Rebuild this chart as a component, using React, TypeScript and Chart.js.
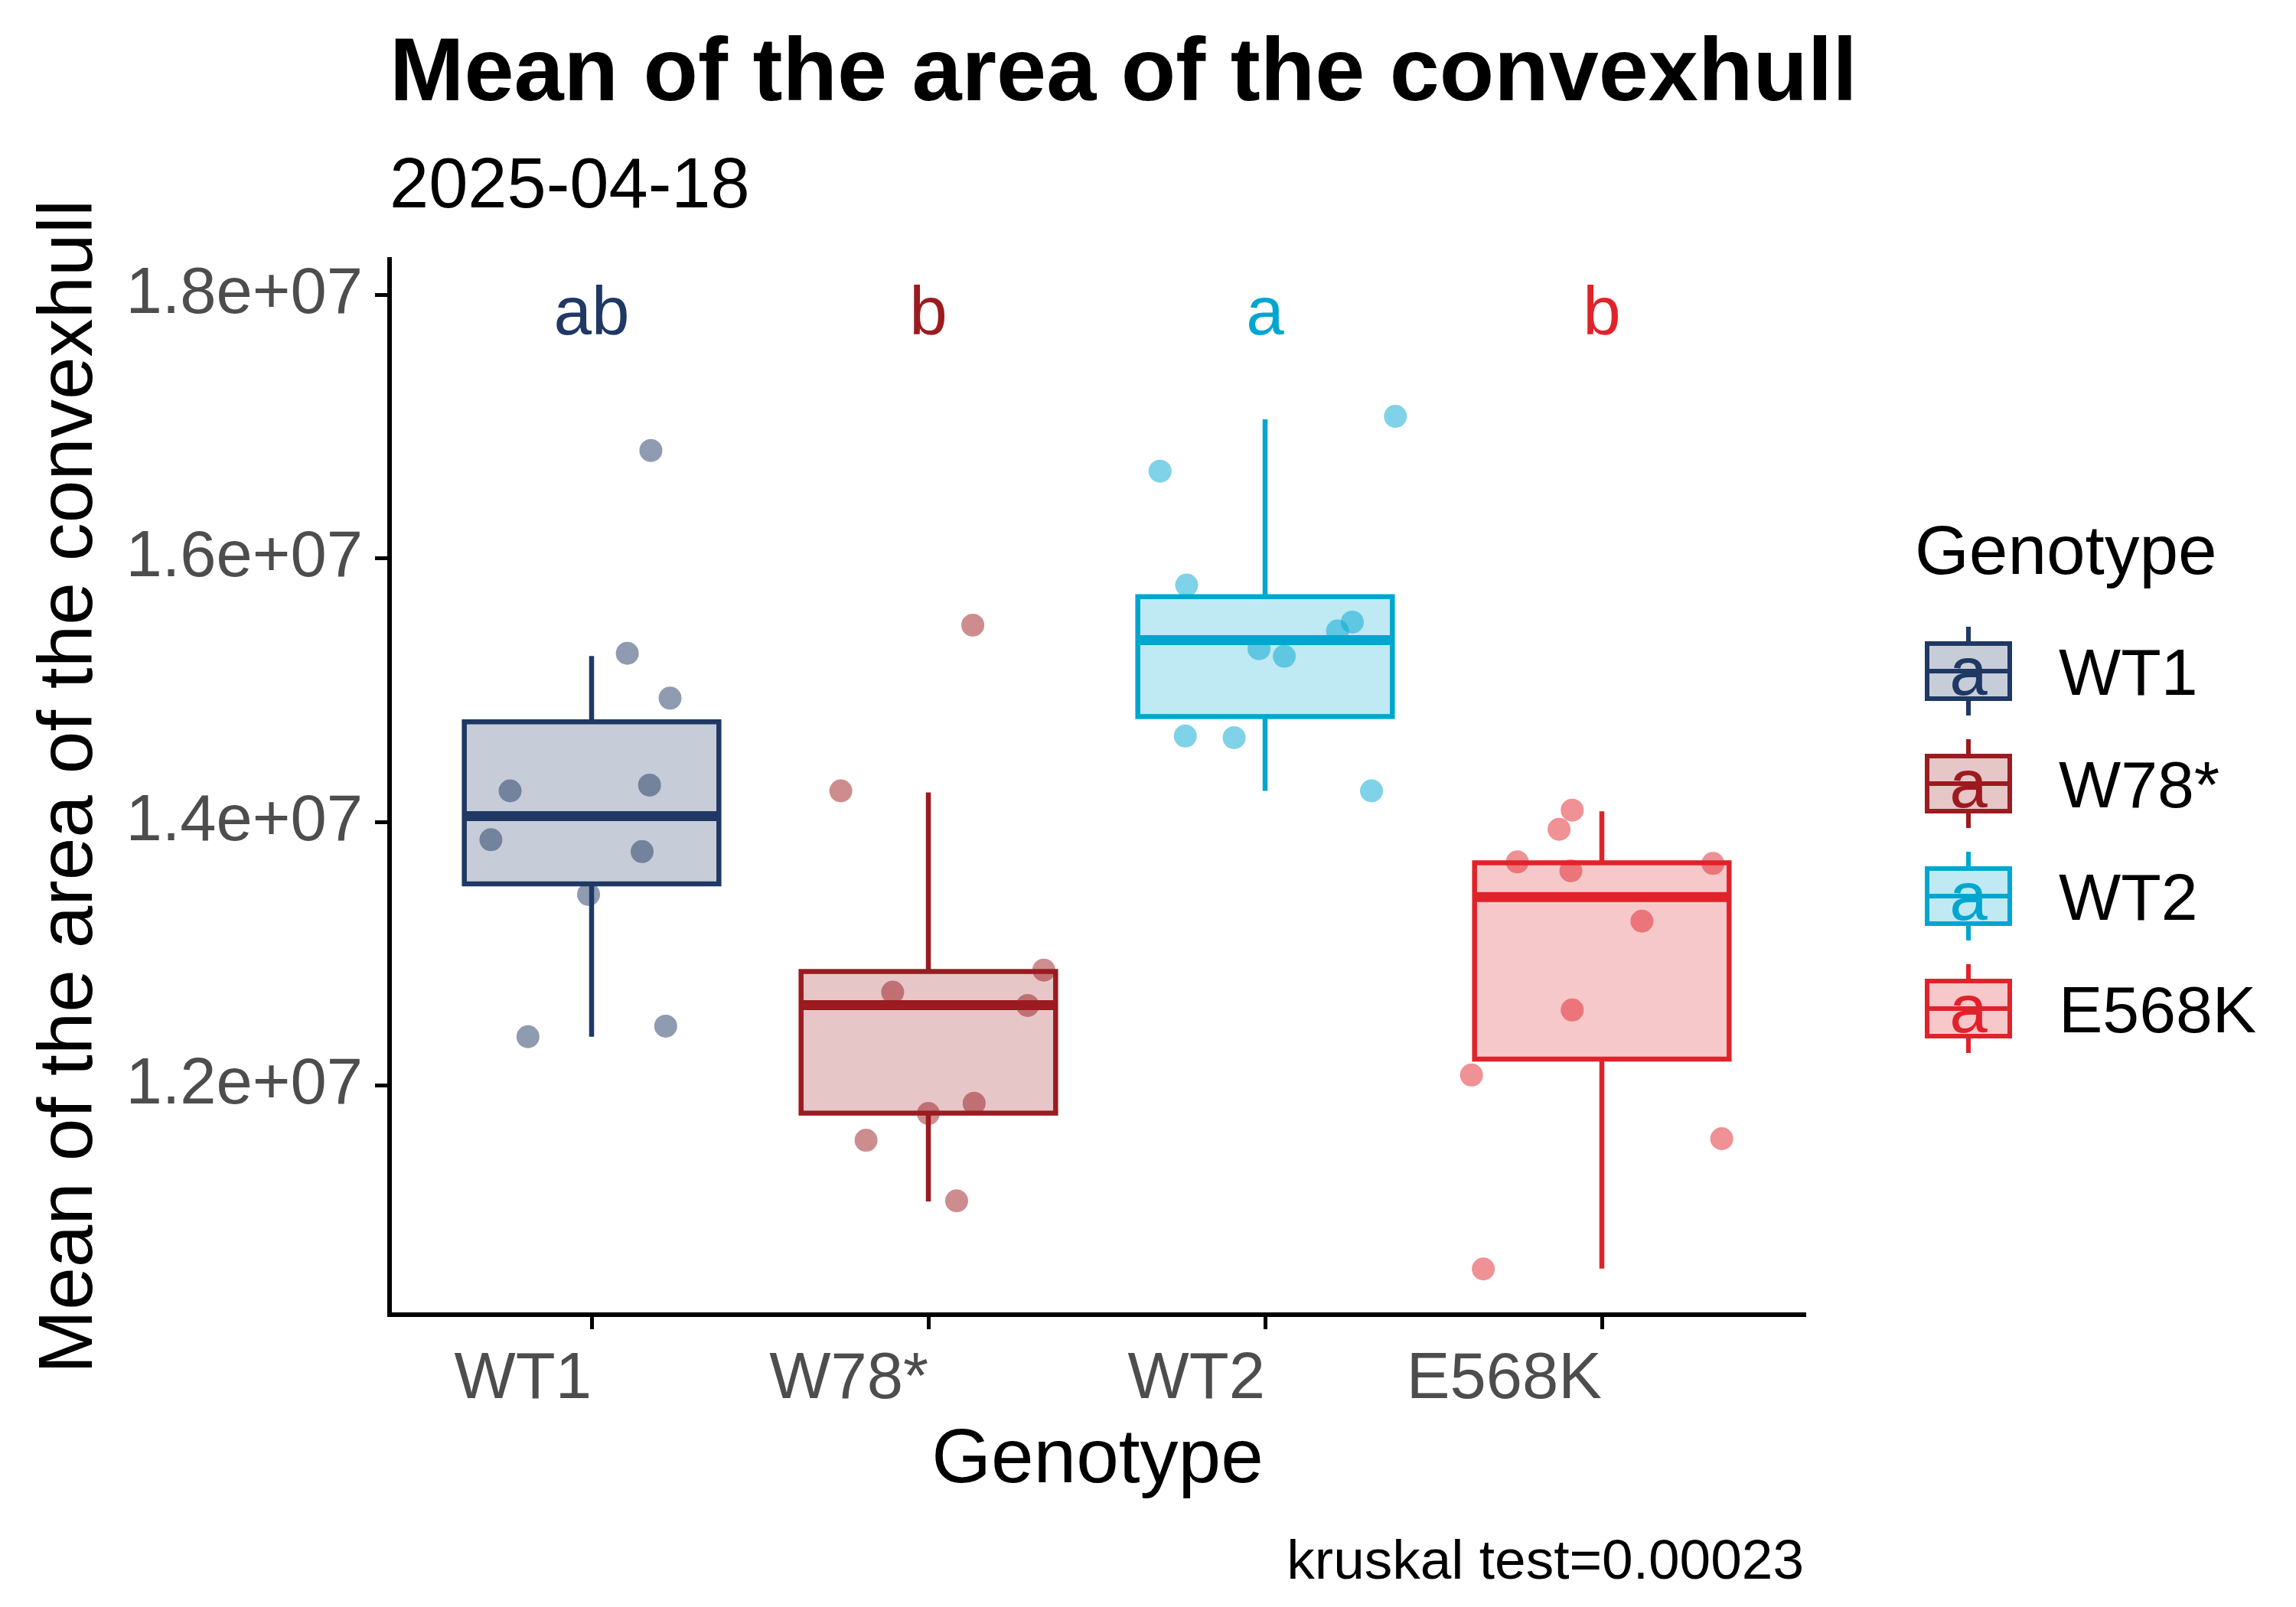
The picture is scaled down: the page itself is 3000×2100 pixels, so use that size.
import React, { useEffect, useRef } from "react";
import { Chart, registerables } from "chart.js";
Chart.register(...registerables);

const categories = ["WT1", "W78*", "WT2", "E568K"];
const colors = ["#1F3864", "#9B1B20", "#00A6CF", "#E0232B"];
const letters = ["ab", "b", "a", "b"];
// box stats: [low whisker, Q1, median, Q3, high whisker]
const boxStats = [
  [1.237e7, 1.353e7, 1.4045e7, 1.476e7, 1.526e7],
  [1.112e7, 1.179e7, 1.261e7, 1.2865e7, 1.4225e7],
  [1.4236e7, 1.48e7, 1.538e7, 1.571e7, 1.7056e7],
  [1.061e7, 1.22e7, 1.343e7, 1.369e7, 1.408e7],
];
// jittered points: [x offset, value]
const pointsWT1 = [[0.176, 1.682e7], [0.106, 1.528e7], [0.233, 1.494e7], [-0.242, 1.4236e7], [0.172, 1.428e7], [-0.299, 1.3865e7], [0.15, 1.3775e7], [-0.009, 1.345e7], [-0.189, 1.237e7], [0.22, 1.245e7]];
const pointsW78 = [[0.132, 1.5494e7], [-0.26, 1.4236e7], [0.343, 1.2876e7], [-0.106, 1.2708e7], [0.295, 1.2607e7], [0.136, 1.1865e7], [0, 1.1787e7], [-0.185, 1.1584e7], [0.084, 1.1124e7]];
const pointsWT2 = [[0.387, 1.7079e7], [-0.312, 1.6663e7], [-0.233, 1.5798e7], [0.259, 1.5517e7], [0.215, 1.545e7], [-0.018, 1.5315e7], [0.057, 1.5258e7], [-0.237, 1.4652e7], [-0.092, 1.464e7], [0.316, 1.4236e7]];
const pointsE568K = [[-0.088, 1.409e7], [-0.127, 1.3944e7], [-0.251, 1.3697e7], [0.33, 1.3685e7], [-0.092, 1.3629e7], [0.119, 1.3247e7], [-0.088, 1.2573e7], [-0.387, 1.2079e7], [0.356, 1.1596e7], [-0.352, 1.0607e7]];
const allPoints = [pointsWT1, pointsW78, pointsWT2, pointsE568K];
const yTicks = [1.2e7, 1.4e7, 1.6e7, 1.8e7];

const FONT = "'Liberation Sans', Arial, sans-serif";

function alpha(hex: string, a: number) {
  const n = parseInt(hex.slice(1), 16);
  return `rgba(${(n >> 16) & 255},${(n >> 8) & 255},${n & 255},${a})`;
}

const boxPlugin = {
  id: "boxes",
  beforeDatasetsDraw(chart: any) {
    const { ctx, scales } = chart;
    const x = scales.x, y = scales.y;
    const hw = 0.378;
    boxStats.forEach((s, i) => {
      const c = colors[i];
      const cx = x.getPixelForValue(i + 1);
      const l = x.getPixelForValue(i + 1 - hw), r = x.getPixelForValue(i + 1 + hw);
      ctx.save();
      ctx.strokeStyle = c;
      ctx.lineWidth = 6.5;
      ctx.beginPath();
      ctx.moveTo(cx, y.getPixelForValue(s[0])); ctx.lineTo(cx, y.getPixelForValue(s[1]));
      ctx.moveTo(cx, y.getPixelForValue(s[3])); ctx.lineTo(cx, y.getPixelForValue(s[4]));
      ctx.stroke();
      const t = y.getPixelForValue(s[3]), b = y.getPixelForValue(s[1]);
      ctx.fillStyle = alpha(c, 0.25);
      ctx.fillRect(l, t, r - l, b - t);
      ctx.strokeRect(l, t, r - l, b - t);
      ctx.lineWidth = 13;
      ctx.beginPath();
      const m = y.getPixelForValue(s[2]);
      ctx.moveTo(l, m); ctx.lineTo(r, m); ctx.stroke();
      ctx.restore();
    });
  },
  afterDraw(chart: any) {
    const { ctx, scales } = chart;
    const x = scales.x, y = scales.y;
    ctx.save();
    ctx.textBaseline = "alphabetic";
    ctx.font = `89px ${FONT}`;
    ctx.textAlign = "center";
    letters.forEach((t, i) => {
      ctx.fillStyle = colors[i];
      ctx.fillText(t, x.getPixelForValue(i + 1), y.getPixelForValue(1.7888e7) + 32);
    });
    ctx.fillStyle = "#000";
    ctx.textAlign = "left";
    ctx.font = `bold 117px ${FONT}`;
    ctx.fillText("Mean of the area of the convexhull", 509, 131);
    ctx.font = `92px ${FONT}`;
    ctx.fillText("2025-04-18", 509, 271);
    ctx.font = `100px ${FONT}`;
    ctx.textAlign = "center";
    ctx.fillText("Genotype", 1434, 1937);
    ctx.save();
    ctx.translate(120, 1028);
    ctx.rotate(-Math.PI / 2);
    ctx.fillText("Mean of the area of the convexhull", 0, 0);
    ctx.restore();
    ctx.textAlign = "right";
    ctx.font = `73px ${FONT}`;
    ctx.fillText("kruskal test=0.00023", 2357, 2063);
    // legend
    ctx.textAlign = "left";
    ctx.font = `91px ${FONT}`;
    ctx.fillText("Genotype", 2502, 750);
    const ys = [877, 1024, 1171, 1318];
    categories.forEach((cat, i) => {
      const c = colors[i];
      const cy = ys[i];
      const l = 2518, r = 2626, top = cy - 36, bot = cy + 36, cx = (l + r) / 2;
      ctx.strokeStyle = c;
      ctx.lineWidth = 6;
      ctx.beginPath();
      ctx.moveTo(cx, cy - 58); ctx.lineTo(cx, top);
      ctx.moveTo(cx, bot); ctx.lineTo(cx, cy + 58);
      ctx.stroke();
      ctx.fillStyle = alpha(c, 0.25);
      ctx.fillRect(l, top, r - l, bot - top);
      ctx.strokeRect(l, top, r - l, bot - top);
      ctx.beginPath(); ctx.moveTo(l, cy); ctx.lineTo(r, cy); ctx.stroke();
      ctx.fillStyle = c;
      ctx.textAlign = "center";
      ctx.font = `89px ${FONT}`;
      ctx.fillText("a", cx, cy + 31);
      ctx.fillStyle = "#000";
      ctx.textAlign = "left";
      ctx.font = `86px ${FONT}`;
      ctx.fillText(cat, 2690, cy + 31);
    });
    ctx.restore();
  },
};

export default function App() {
  const ref = useRef<HTMLCanvasElement>(null);
  useEffect(() => {
    const datasets = allPoints.map((pts, i) => ({
      data: pts.map(([dx, v]) => ({ x: i + 1 + dx, y: v })),
      backgroundColor: alpha(colors[i], 0.5),
      borderWidth: 0,
      pointRadius: 15,
    }));
    const chart = new Chart(ref.current!, {
      type: "scatter",
      data: { datasets },
      plugins: [boxPlugin],
      options: {
        animation: false,
        responsive: false,
        devicePixelRatio: 1,
        layout: { padding: { top: 339, right: 643, left: 0, bottom: 0 } },
        plugins: { legend: { display: false }, tooltip: { enabled: false } },
        scales: {
          x: {
            type: "linear",
            min: 0.4,
            max: 4.6,
            afterBuildTicks: (s: any) => { s.ticks = [1, 2, 3, 4].map((v) => ({ value: v })); },
            afterFit: (s: any) => { s.height = 382; },
            ticks: {
              callback: (v: any) => categories[Number(v) - 1] ?? "",
              align: "end",
              color: "#4d4d4d",
              font: { family: FONT, size: 85 },
              padding: 16,
              maxRotation: 0,
              autoSkip: false,
            },
            grid: { drawOnChartArea: false, drawTicks: true, tickLength: 19, color: "#000", lineWidth: 5 },
            border: { display: true, color: "#000", width: 6 },
          },
          y: {
            min: 1.026e7,
            max: 1.827e7,
            afterBuildTicks: (s: any) => { s.ticks = yTicks.map((v) => ({ value: v })); },
            afterFit: (s: any) => { s.width = 509; },
            ticks: {
              callback: (v: any) => Number(v).toExponential(1).replace("e+", "e+0"),
              color: "#4d4d4d",
              font: { family: FONT, size: 85 },
              padding: 16,
            },
            grid: { drawOnChartArea: false, drawTicks: true, tickLength: 19, color: "#000", lineWidth: 5 },
            border: { display: true, color: "#000", width: 6 },
          },
        },
      },
    } as any);
    return () => chart.destroy();
  }, []);
  return (
    <canvas
      ref={ref}
      width={3000}
      height={2100}
      style={{ position: "absolute", left: 0, top: 0, width: 3000, height: 2100, background: "#fff" }}
    />
  );
}
